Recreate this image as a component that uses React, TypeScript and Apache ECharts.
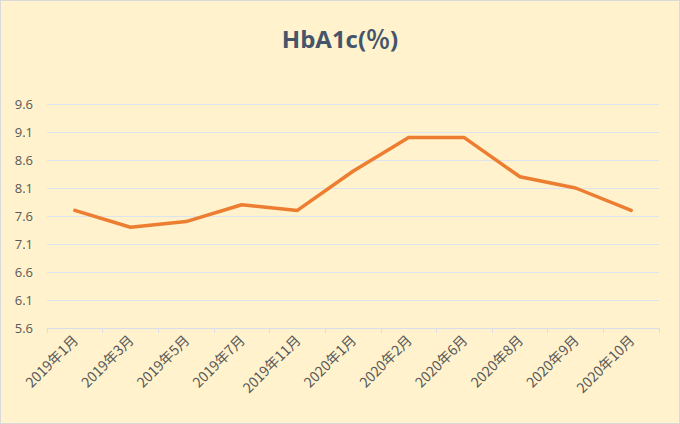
import React, { useEffect, useRef } from "react";
import * as echarts from "echarts";

const categories = [
  "2019年1月", "2019年3月", "2019年5月", "2019年7月", "2019年11月",
  "2020年1月", "2020年2月", "2020年6月", "2020年8月", "2020年9月", "2020年10月",
];
const hba1c = [7.7, 7.4, 7.5, 7.8, 7.7, 8.4, 9.0, 9.0, 8.3, 8.1, 7.7];
const yMin = 5.6;
const yMax = 9.6;
const yStep = 0.5;
const titleText = "HbA1c(％)";

export default function App() {
  const ref = useRef<HTMLDivElement>(null);
  useEffect(() => {
    document.body.style.margin = "0";
    const chart = echarts.init(ref.current!, null, { renderer: "svg" });
    chart.setOption({
      animation: false,
      backgroundColor: "#FFF2CC",
      title: {
        text: titleText,
        left: "center",
        top: 20,
        textStyle: {
          fontFamily: "'Open Sans', 'Noto Sans CJK SC', sans-serif",
          fontSize: 24,
          fontWeight: "bold",
          color: "#44546A",
        },
      },
      grid: { left: 46, right: 20, top: 103, bottom: 95 },
      xAxis: {
        type: "category",
        data: categories,
        boundaryGap: true,
        axisLine: { lineStyle: { color: "#D9DEE8", width: 1 } },
        axisTick: { show: true, length: 5, lineStyle: { color: "#D9DEE8" } },
        axisLabel: {
          rotate: 45,
          interval: 0,
          margin: 9,
          color: "#595959",
          fontSize: 14,
          fontFamily: "'Noto Sans CJK SC', sans-serif",
        },
      },
      yAxis: {
        type: "value",
        min: yMin,
        max: yMax,
        interval: yStep,
        axisLine: { show: false },
        axisTick: { show: false },
        axisLabel: {
          color: "#595959",
          fontSize: 13,
          margin: 14,
          fontFamily: "'Open Sans', sans-serif",
          formatter: (v: number) => v.toFixed(1),
        },
        splitLine: { lineStyle: { color: "#DCE2EE", width: 1 } },
      },
      series: [
        {
          type: "line",
          data: hba1c,
          showSymbol: false,
          symbol: "none",
          lineStyle: { color: "#ED7D31", width: 3.5, cap: "round", join: "round" },
          itemStyle: { color: "#ED7D31" },
        },
      ],
    });
    return () => chart.dispose();
  }, []);
  return (
    <div
      ref={ref}
      style={{ width: 680, height: 424, boxSizing: "border-box", border: "1px solid #D9D9D9" }}
    />
  );
}
